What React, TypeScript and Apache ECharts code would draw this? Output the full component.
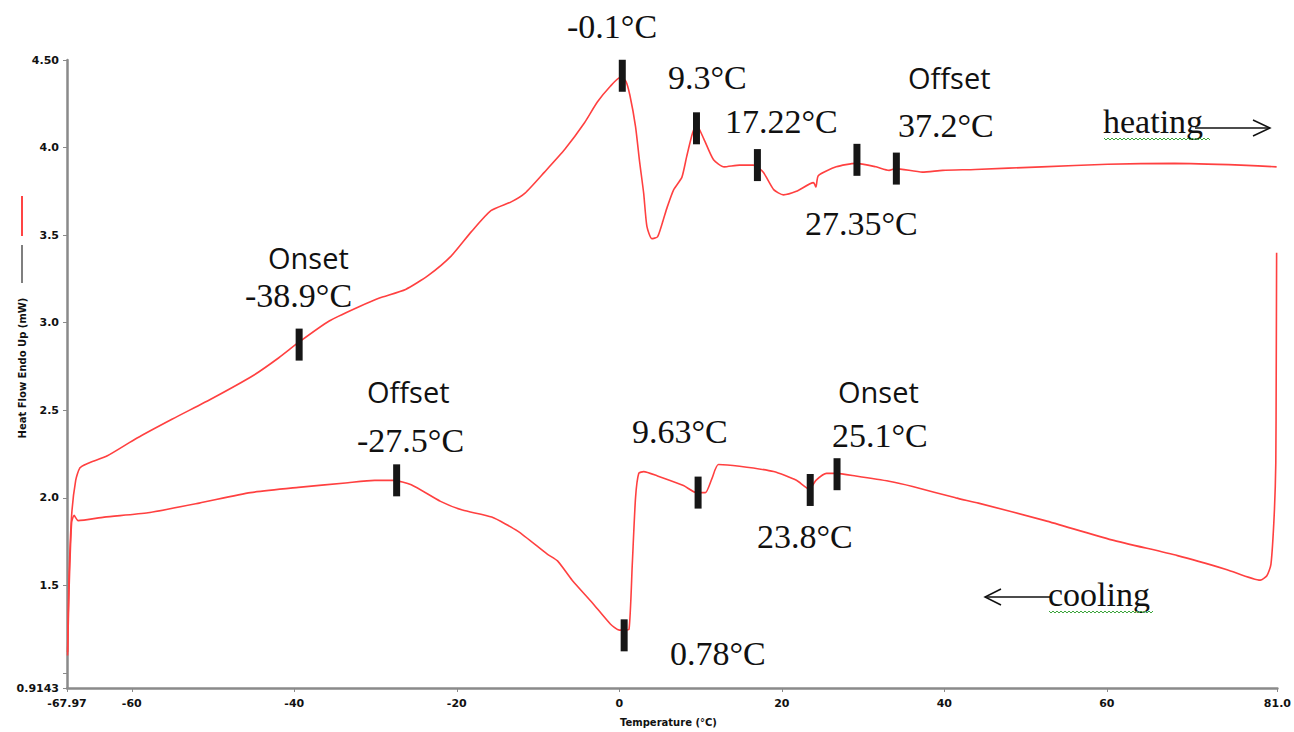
import React, { useEffect, useRef } from "react";
import * as echarts from "echarts";

// Heating run (temperature °C, heat flow mW)
const heatingT = [-67.9, -67.75, -67.4, -66.9, -66.4, -65.5, -63, -59.4, -55, -50, -45, -41.9, -39.4, -35.7, -32.1, -29.6, -26.3, -23.5, -20.7, -18.2, -15.8, -13.3, -11.6, -9.2, -6.7, -4.3, -2.7, -1.1, 0.1, 0.8, 1.3, 2.0, 2.5, 3.0, 3.4, 4.0, 4.7, 5.3, 5.9, 6.7, 7.7, 8.3, 9.0, 9.5, 10.4, 11.6, 12.9, 14.8, 16.5, 17.7, 19.0, 20.2, 21.8, 23.9, 24.2, 24.5, 26.7, 29.1, 31.6, 33.2, 34.0, 37.3, 39.8, 43.8, 52, 60.1, 68.3, 76.5, 80.9];
const heatingH = [1.12, 1.5, 1.9, 2.1, 2.17, 2.195, 2.24, 2.34, 2.45, 2.57, 2.7, 2.8, 2.89, 3.01, 3.09, 3.14, 3.19, 3.27, 3.38, 3.52, 3.64, 3.69, 3.74, 3.86, 3.99, 4.14, 4.26, 4.35, 4.4, 4.38, 4.3, 4.12, 3.92, 3.74, 3.55, 3.48, 3.49, 3.57, 3.66, 3.76, 3.83, 3.95, 4.08, 4.13, 4.05, 3.93, 3.89, 3.9, 3.9, 3.86, 3.76, 3.73, 3.75, 3.8, 3.775, 3.84, 3.89, 3.91, 3.89, 3.87, 3.88, 3.86, 3.87, 3.875, 3.89, 3.905, 3.91, 3.9, 3.89];

// Cooling run (from 81 °C back down to -68 °C)
const coolingT = [80.9, 80.85, 80.8, 80.6, 80.2, 79.7, 78.9, 74.8, 68.7, 60.6, 52.4, 44.2, 41.4, 36.1, 33.2, 29.1, 26.7, 25.5, 24.2, 23.4, 21.8, 19.0, 14.8, 12.2, 11.4, 10.6, 9.5, 7.9, 4.7, 3.0, 2.4, 2.0, 1.6, 1.2, 0.6, 0.0, -1.1, -3.3, -5.8, -7.6, -8.9, -12.5, -15.7, -19.3, -22.0, -25.6, -27.8, -30.1, -33.7, -39.5, -45.4, -51.7, -58.0, -63.4, -66.6, -67.1, -67.4, -67.7, -67.9];
const coolingH = [3.4, 2.7, 2.2, 1.9, 1.62, 1.555, 1.53, 1.59, 1.67, 1.76, 1.87, 1.97, 2.0, 2.065, 2.095, 2.125, 2.14, 2.14, 2.1, 2.05, 2.1, 2.15, 2.18, 2.19, 2.11, 2.03, 2.03, 2.07, 2.125, 2.15, 2.14, 2.0, 1.62, 1.25, 1.245, 1.245, 1.28, 1.4, 1.53, 1.64, 1.68, 1.81, 1.89, 1.93, 1.98, 2.075, 2.1, 2.1, 2.085, 2.06, 2.03, 1.97, 1.915, 1.89, 1.87, 1.9, 1.86, 1.5, 1.1];

// Black transition markers
const markerT = [0.37, 9.5, 17.0, 29.25, 34.1, -39.4, -27.4, 0.6, 9.7, 23.5, 26.8];
const markerH = [4.41, 4.11, 3.9, 3.93, 3.88, 2.875, 2.1, 1.215, 2.03, 2.045, 2.135];

// Axis ticks / labels
const xTickValues = [-67.97, -60, -40, -20, 0, 20, 40, 60, 81.0];
const xTickLabels = ["-67.97", "-60", "-40", "-20", "0", "20", "40", "60", "81.0"];
const yTickValues = [0.9143, 1.0, 1.5, 2.0, 2.5, 3.0, 3.5, 4.0, 4.5];
const yLabelValues = [0.9143, 1.5, 2.0, 2.5, 3.0, 3.5, 4.0, 4.5];
const yLabelTexts = ["0.9143", "1.5", "2.0", "2.5", "3.0", "3.5", "4.0", "4.50"];

const SERIF = "Liberation Serif";
const SANS = "Open Sans";
const AXIS_FONT = "DejaVu Sans";

function lookup(vals: number[], texts: string[], v: number) {
  const i = vals.findIndex((t) => Math.abs(t - v) < 1e-6);
  return i >= 0 ? texts[i] : "";
}

function serifText(text: string, x: number, baseline: number) {
  return {
    type: "text",
    x,
    y: baseline - 11.5,
    z: 20,
    style: {
      text,
      font: `34px "${SERIF}"`,
      fill: "#111",
      textAlign: "left",
      textVerticalAlign: "middle",
    },
  };
}

function sansText(text: string, x: number, baseline: number) {
  return {
    type: "text",
    x,
    y: baseline - 11,
    z: 20,
    style: {
      text,
      font: `29px "${SANS}"`,
      fill: "#111",
      textAlign: "left",
      textVerticalAlign: "middle",
    },
  };
}

function wavy(x0: number, x1: number, y: number) {
  const pts: number[][] = [];
  let k = 0;
  for (let x = x0; x <= x1; x += 2) {
    pts.push([x, y + (k % 2 === 0 ? -1 : 1)]);
    k++;
  }
  return {
    type: "polyline",
    z: 20,
    shape: { points: pts },
    style: { stroke: "#3aa53a", lineWidth: 1, fill: null },
  };
}

export default function App() {
  const ref = useRef<HTMLDivElement>(null);
  useEffect(() => {
    const chart = echarts.init(ref.current!, null, { renderer: "svg" });
    const axisColor = "#8a8a8a";
    chart.setOption({
      animation: false,
      backgroundColor: "#ffffff",
      grid: { left: 67, top: 60, width: 1216, height: 628, containLabel: false },
      xAxis: {
        type: "value",
        min: -67.97,
        max: 81.0,
        axisLine: { show: true, onZero: false, lineStyle: { color: axisColor, width: 2.5 } },
        axisTick: { show: true, customValues: xTickValues, length: 4, lineStyle: { color: axisColor, width: 1 } },
        axisLabel: {
          customValues: xTickValues,
          margin: 10,
          fontFamily: AXIS_FONT,
          fontWeight: "bold",
          fontSize: 11,
          color: "#111",
          formatter: (v: number) => lookup(xTickValues, xTickLabels, v),
        },
        splitLine: { show: false },
      },
      yAxis: {
        type: "value",
        min: 0.9143,
        max: 4.5,
        axisLine: { show: true, onZero: false, lineStyle: { color: axisColor, width: 2.5 } },
        axisTick: { show: true, customValues: yTickValues, length: 4, lineStyle: { color: axisColor, width: 1 } },
        axisLabel: {
          customValues: yLabelValues,
          margin: 8,
          fontFamily: AXIS_FONT,
          fontWeight: "bold",
          fontSize: 11,
          color: "#111",
          formatter: (v: number) => lookup(yLabelValues, yLabelTexts, v),
        },
        splitLine: { show: false },
      },
      series: [
        {
          name: "heating",
          type: "line",
          data: heatingT.map((t, i) => [t, heatingH[i]]),
          showSymbol: false,
          symbol: "none",
          smooth: 0.2,
          lineStyle: { color: "#ff4040", width: 1.6 },
          z: 3,
        },
        {
          name: "cooling",
          type: "line",
          data: coolingT.map((t, i) => [t, coolingH[i]]),
          showSymbol: false,
          symbol: "none",
          smooth: 0.2,
          lineStyle: { color: "#ff4040", width: 1.6 },
          z: 3,
        },
        {
          name: "markers",
          type: "scatter",
          data: markerT.map((t, i) => [t, markerH[i]]),
          symbol: "rect",
          symbolSize: [7, 32],
          itemStyle: { color: "#161616", opacity: 1 },
          z: 5,
        },
      ],
      graphic: [
        // Y axis title with legend strokes
        {
          type: "text",
          x: 22,
          y: 368,
          rotation: Math.PI / 2,
          z: 20,
          style: {
            text: "Heat Flow Endo Up (mW)",
            font: `bold 10px "${AXIS_FONT}"`,
            fill: "#111",
            textAlign: "center",
            textVerticalAlign: "middle",
          },
        },
        { type: "line", z: 20, shape: { x1: 22, y1: 196, x2: 22, y2: 236 }, style: { stroke: "#ff4444", lineWidth: 2 } },
        { type: "line", z: 20, shape: { x1: 22, y1: 245, x2: 22, y2: 283 }, style: { stroke: "#555", lineWidth: 1.5 } },
        // X axis title
        {
          type: "text",
          x: 620,
          y: 722,
          z: 20,
          style: {
            text: "Temperature (°C)",
            font: `bold 10px "${AXIS_FONT}"`,
            fill: "#111",
            textAlign: "left",
            textVerticalAlign: "middle",
          },
        },
        // Annotations
        serifText("-0.1°C", 567, 38),
        serifText("9.3°C", 668, 89),
        serifText("17.22°C", 725, 133),
        serifText("27.35°C", 805, 235),
        serifText("37.2°C", 898, 137),
        serifText("-38.9°C", 245, 307),
        serifText("-27.5°C", 357, 452),
        serifText("9.63°C", 632, 443),
        serifText("25.1°C", 832, 447),
        serifText("23.8°C", 757, 548),
        serifText("0.78°C", 670, 665),
        serifText("heating", 1103, 133),
        serifText("cooling", 1048, 606),
        sansText("Offset", 908, 88),
        sansText("Onset", 268, 268),
        sansText("Offset", 367, 402),
        sansText("Onset", 838, 402),
        wavy(1104, 1210, 139),
        wavy(1049, 1154, 612),
        // heating arrow
        { type: "line", z: 20, shape: { x1: 1195, y1: 128, x2: 1270, y2: 128 }, style: { stroke: "#111", lineWidth: 1.5 } },
        { type: "polyline", z: 20, shape: { points: [[1253, 120], [1270, 128], [1253, 136]] }, style: { stroke: "#111", lineWidth: 1.5, fill: null } },
        // cooling arrow
        { type: "line", z: 20, shape: { x1: 985, y1: 597, x2: 1050, y2: 597 }, style: { stroke: "#111", lineWidth: 1.5 } },
        { type: "polyline", z: 20, shape: { points: [[1001, 589], [985, 597], [1001, 605]] }, style: { stroke: "#111", lineWidth: 1.5, fill: null } },
      ],
    });
    return () => chart.dispose();
  }, []);
  return (
    <div
      ref={ref}
      style={{ position: "fixed", left: 0, top: 0, width: 1294, height: 732, background: "#fff" }}
    />
  );
}
